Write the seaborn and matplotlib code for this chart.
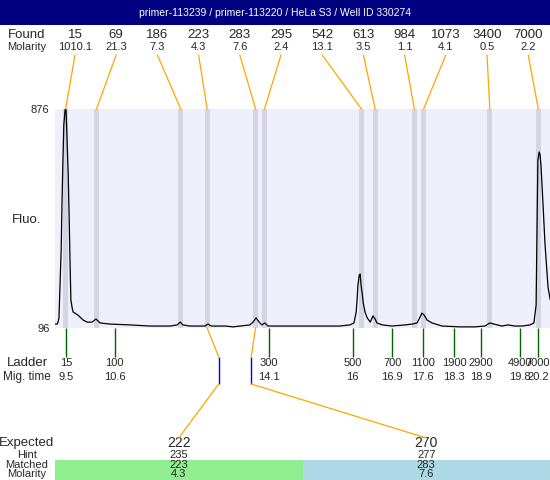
import numpy as np
import matplotlib
matplotlib.use("Agg")
import matplotlib.pyplot as plt
from matplotlib.patches import ConnectionPatch
from matplotlib.transforms import blended_transform_factory
import seaborn as sns

## data ##
title = "primer-113239 / primer-113220 / HeLa S3 / Well ID 330274"

found_size = [15, 69, 186, 223, 283, 295, 542, 613, 984, 1073, 3400, 7000]
found_molarity = [1010.1, 21.3, 7.3, 4.3, 7.6, 2.4, 13.1, 3.5, 1.1, 4.1, 0.5, 2.2]
found_time = [9.49, 10.19, 12.10, 12.70, 13.80, 14.00, 16.20, 16.51, 17.40, 17.61, 19.11, 20.21]

ladder_size = [15, 100, 300, 500, 700, 1100, 1900, 2900, 4900, 7000]
ladder_time = [9.5, 10.6, 14.1, 16, 16.9, 17.6, 18.3, 18.9, 19.8, 20.2]

expected = [222, 270]
hint = [235, 277]
matched = [223, 283]
matched_molarity = [4.3, 7.6]

fluo_min, fluo_max = 96, 876

trace_time = [9.25, 9.30, 9.32, 9.34, 9.36, 9.39, 9.41, 9.43, 9.45, 9.48,
              9.50, 9.52, 9.55, 9.57, 9.59, 9.61, 9.64, 9.66, 9.77, 9.89,
              9.98, 10.09, 10.18, 10.27, 10.50, 10.95, 11.40, 11.86, 12.02, 12.09,
              12.15, 12.31, 12.65, 12.72, 12.79, 13.11, 13.29, 13.45, 13.67, 13.74,
              13.81, 13.88, 13.94, 14.01, 14.08, 14.35, 14.81, 15.26, 15.71, 15.94,
              16.03, 16.08, 16.10, 16.12, 16.15, 16.17, 16.19, 16.22, 16.24, 16.28,
              16.33, 16.40, 16.46, 16.51, 16.55, 16.67, 16.89, 17.19, 17.35, 17.46,
              17.53, 17.57, 17.62, 17.69, 17.80, 18.03, 18.43, 18.77, 19.00, 19.11,
              19.20, 19.39, 19.52, 19.68, 19.84, 20.02, 20.11, 20.16, 20.18, 20.20,
              20.23, 20.25, 20.27, 20.29, 20.32, 20.36, 20.43, 20.48]
trace_fluo = [110, 110, 117, 132, 231, 374, 552, 694, 819, 876,
              876, 783, 641, 498, 338, 196, 167, 153, 142, 124,
              117, 117, 128, 114, 110, 107, 103, 103, 107, 117,
              107, 103, 103, 110, 103, 103, 100, 103, 107, 117,
              132, 117, 107, 114, 103, 103, 103, 103, 103, 107,
              114, 153, 196, 249, 285, 288, 249, 214, 185, 153,
              132, 117, 139, 128, 114, 107, 103, 107, 110, 114,
              135, 149, 142, 124, 114, 103, 100, 100, 103, 114,
              110, 103, 107, 103, 103, 107, 114, 178, 445, 694,
              723, 712, 677, 616, 527, 399, 242, 196]

## style ##
sns.set_style("white")
plt.rcParams['font.family'] = ['Liberation Sans', 'DejaVu Sans']

W, H = 550, 480
fx = lambda px: px / W
fy = lambda py: 1 - py / H

orange = '#ffa500'
fig = plt.figure(figsize=(5.5, 4.8), dpi=100)

# title bar
tax = fig.add_axes([0, fy(25), 1, 25 / H])
tax.set_facecolor('#000080')
tax.set_xticks([]); tax.set_yticks([])
for s in tax.spines.values():
    s.set_visible(False)
tax.text(0.5, 0.5, title, color='white', fontsize=7.5, ha='center', va='center', transform=tax.transAxes)

# main electropherogram
ax = fig.add_axes([fx(55), fy(328), 495 / W, 219 / H])
ax.set_facecolor('#efeffc')
for t in found_time:
    ax.axvspan(t - 0.055, t + 0.055, color='#d4d4e2', lw=0, zorder=1)
sns.lineplot(x=trace_time, y=trace_fluo, ax=ax, color='black', linewidth=0.9, estimator=None, zorder=3)
ax.set_xlim(9.25, 20.475)
ax.set_ylim(fluo_min, fluo_max)
ax.set_xticks([])
ax.set_yticks([fluo_min, fluo_max])
ax.set_yticklabels([str(fluo_min), str(fluo_max)])
ax.tick_params(axis='y', length=0, labelsize=8, pad=4)
ax.set_xlabel(''); ax.set_ylabel('')
for s in ax.spines.values():
    s.set_visible(False)

trans = blended_transform_factory(ax.transData, ax.transAxes)
ax_px = lambda py: (328 - py) / 219  # pixel row -> axes fraction

# ladder
ax.vlines(ladder_time, ax_px(357), 0, transform=trans, colors='#006400', lw=1, clip_on=False)
for s, t in zip(ladder_size, ladder_time):
    ax.text(t, ax_px(363), str(s), transform=trans, ha='center', va='center', fontsize=8)
    ax.text(t, ax_px(377), str(t), transform=trans, ha='center', va='center', fontsize=8)

# found peaks row
for i, (s, m, t) in enumerate(zip(found_size, found_molarity, found_time)):
    x = 75 + 41.2 * i
    fig.text(fx(x), fy(35), str(s), ha='center', va='center', fontsize=9.5)
    fig.text(fx(x), fy(47), str(m), ha='center', va='center', fontsize=8)
    con = ConnectionPatch(xyA=(fx(x), fy(55)), coordsA='figure fraction', xyB=(t, 1), coordsB=trans,
                          color=orange, lw=0.9)
    fig.add_artist(con)

# row labels
fig.text(fx(27), fy(35), 'Found', ha='center', va='center', fontsize=9.5)
fig.text(fx(27), fy(47), 'Molarity', ha='center', va='center', fontsize=8)
fig.text(fx(27), fy(220), 'Fluo.', ha='center', va='center', fontsize=9.5)
fig.text(fx(27), fy(363), 'Ladder', ha='center', va='center', fontsize=9.5)
fig.text(fx(27), fy(377), 'Mig. time', ha='center', va='center', fontsize=8.5)

# expected table
tab = fig.add_axes([fx(55), 0, 495 / W, 50 / H])
tab.bar([0, 1], [20, 20], width=1, color=['#90ee90', '#add8e6'], lw=0)
tab.set_xlim(-0.5, 1.5)
tab.set_ylim(0, 50)
tab.axis('off')
for j in range(len(expected)):
    tab.text(j, 37, str(expected[j]), ha='center', va='center', fontsize=10)
    tab.text(j, 25, str(hint[j]), ha='center', va='center', fontsize=8)
    tab.text(j, 15, str(matched[j]), ha='center', va='center', fontsize=8)
    tab.text(j, 6, str(matched_molarity[j]), ha='center', va='center', fontsize=8)

    mt = found_time[found_size.index(matched[j])]
    ht = np.interp(hint[j], ladder_size, ladder_time)
    c1 = ConnectionPatch(xyA=(mt, 0), coordsA=trans, xyB=(ht, ax_px(357)), coordsB=trans, color=orange, lw=0.9)
    fig.add_artist(c1)
    ax.vlines(ht, ax_px(384), ax_px(357), transform=trans, colors='blue', lw=1, clip_on=False)
    c2 = ConnectionPatch(xyA=(ht, ax_px(384)), coordsA=trans, xyB=(j, 42), coordsB=tab.transData, color=orange, lw=0.9)
    fig.add_artist(c2)

fig.text(fx(27), fy(443), 'Expected', ha='center', va='center', fontsize=9.5)
fig.text(fx(27), fy(455), 'Hint', ha='center', va='center', fontsize=8)
fig.text(fx(27), fy(465), 'Matched', ha='center', va='center', fontsize=8)
fig.text(fx(27), fy(474), 'Molarity', ha='center', va='center', fontsize=8)

fig.savefig('out.png', dpi=100)
